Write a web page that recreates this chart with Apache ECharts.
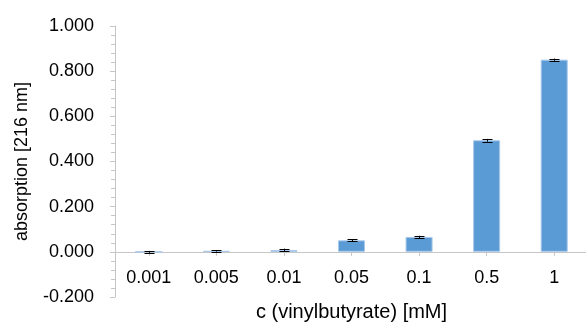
<!DOCTYPE html>
<html>
<head>
<meta charset="utf-8">
<script src="https://cdn.jsdelivr.net/npm/echarts@6/dist/echarts.min.js"></script>
<style>
  html, body { margin: 0; padding: 0; background: #fff; }
  #chart { width: 586px; height: 323px; }
</style>
</head>
<body>
<div id="chart"></div>
<script>
// Concentrations of vinyl butyrate (mM)
const categories = ['0.001', '0.005', '0.01', '0.05', '0.1', '0.5', '1'];
// Mean absorption at 216 nm
const absorption = [0.000, 0.004, 0.008, 0.051, 0.066, 0.494, 0.851];
// Standard deviation for each mean
const deviation = [0.004, 0.003, 0.006, 0.005, 0.005, 0.006, 0.005];
// Value axis range
const yMin = -0.2, yMax = 1.0, yStep = 0.2;

const FONT = '"Liberation Sans", Arial, sans-serif';
const AXIS_GREY = '#c6c6c6';

const GRID_TOP = 26, GRID_BOTTOM = 26, HEIGHT = 323;
// Category axis sits on the zero line: shift it up from the grid bottom
const plotH = HEIGHT - GRID_TOP - GRID_BOTTOM;
const zeroShift = plotH * (0 - yMin) / (yMax - yMin);

const chart = echarts.init(document.getElementById('chart'), null, { renderer: 'canvas' });

chart.setOption({
  animation: false,
  backgroundColor: '#ffffff',
  grid: { left: 115, right: -2, top: GRID_TOP, bottom: GRID_BOTTOM, containLabel: false, outerBoundsMode: 'none' },
  xAxis: {
    type: 'category',
    data: categories,
    boundaryGap: true,
    position: 'bottom',
    offset: -zeroShift,
    name: 'c (vinylbutyrate) [mM]',
    nameLocation: 'middle',
    nameGap: 51,
    nameTextStyle: { fontFamily: FONT, fontSize: 20, color: '#000' },
    axisLine: { onZero: false, lineStyle: { color: AXIS_GREY, width: 1 } },
    axisTick: { show: true, alignWithLabel: true, length: 4, lineStyle: { color: AXIS_GREY } },
    axisLabel: { interval: 0, margin: 17, fontFamily: FONT, fontSize: 18, color: '#000' },
    splitLine: { show: false }
  },
  yAxis: {
    type: 'value',
    min: yMin,
    max: yMax,
    interval: yStep,
    name: 'absorption [216 nm]',
    nameLocation: 'middle',
    nameGap: 84,
    nameTextStyle: { fontFamily: FONT, fontSize: 18, color: '#000' },
    axisLine: { show: true, lineStyle: { color: AXIS_GREY, width: 1 } },
    axisTick: { show: true, length: 5, lineStyle: { color: AXIS_GREY } },
    minorTick: { show: true, splitNumber: 5, length: 4, lineStyle: { color: AXIS_GREY } },
    axisLabel: {
      margin: 21,
      fontFamily: FONT,
      fontSize: 18,
      color: '#000',
      formatter: v => v.toFixed(3)
    },
    splitLine: { show: false },
    minorSplitLine: { show: false }
  },
  series: [
    {
      type: 'bar',
      data: absorption,
      barWidth: '40%',
      itemStyle: { color: '#5b9bd5', borderColor: '#a9c9ea', borderWidth: 1 }
    },
    {
      // mean ± standard deviation whiskers
      type: 'custom',
      data: absorption.map((v, i) => [i, v - deviation[i], v + deviation[i]]),
      encode: { x: 0, y: [1, 2] },
      z: 10,
      renderItem: function (params, api) {
        const idx = api.value(0);
        const lo = api.coord([idx, api.value(1)]);
        const hi = api.coord([idx, api.value(2)]);
        const x = Math.round(lo[0]) + 0.5;
        const cap = 5;
        const style = { stroke: '#000', lineWidth: 1 };
        return {
          type: 'group',
          children: [
            { type: 'line', shape: { x1: x, y1: lo[1], x2: x, y2: hi[1] }, style },
            { type: 'line', shape: { x1: x - cap, y1: Math.round(lo[1]) + 0.5, x2: x + cap, y2: Math.round(lo[1]) + 0.5 }, style },
            { type: 'line', shape: { x1: x - cap, y1: Math.round(hi[1]) + 0.5, x2: x + cap, y2: Math.round(hi[1]) + 0.5 }, style }
          ]
        };
      }
    }
  ]
});
</script>
</body>
</html>
